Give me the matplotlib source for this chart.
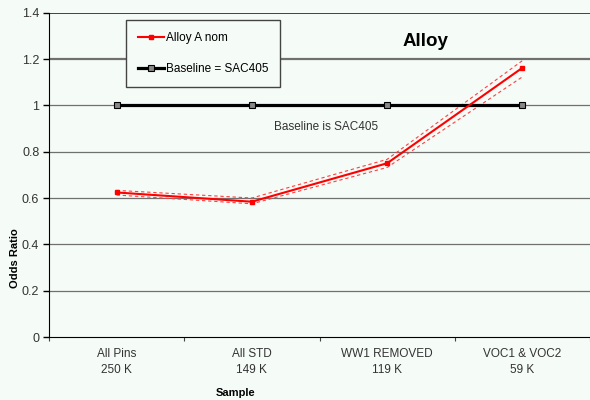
import numpy as np
import matplotlib.pyplot as plt

plt.rcParams['font.family'] = ['Liberation Sans', 'DejaVu Sans']

# data
categories = ['All Pins\n250 K', 'All STD\n149 K', 'WW1 REMOVED\n119 K', 'VOC1 & VOC2\n59 K']
alloy_nom = [0.624, 0.584, 0.750, 1.162]
alloy_upper = [0.633, 0.600, 0.767, 1.193]
alloy_lower = [0.613, 0.575, 0.732, 1.123]
baseline = [1.0, 1.0, 1.0, 1.0]
y_ticks = [0, 0.2, 0.4, 0.6, 0.8, 1.0, 1.2, 1.4]
y_tick_labels = ['0', '0.2', '0.4', '0.6', '0.8', '1', '1.2', '1.4']

bg = '#f5fbf7'
text_col = '#333333'

fig = plt.figure(figsize=(5.9, 4.0), dpi=100, facecolor=bg)
ax = fig.add_axes([49 / 590, 63 / 400, 541 / 590, 324.3 / 400])
ax.set_facecolor(bg)

x = np.arange(len(categories))

# grid lines
for yv in y_ticks[1:-1]:
    lw = 1.6 if yv == 1.2 else 0.9
    ax.axhline(yv, color='#707070', lw=lw, zorder=1)
ax.axhline(1.4, color='#222222', lw=1.2, zorder=1)

# confidence band (dashed)
ax.plot(x, alloy_upper, color='#ff4040', lw=0.8, ls=(0, (3, 2.5)), zorder=3)
ax.plot(x, alloy_lower, color='#ff4040', lw=0.8, ls=(0, (3, 2.5)), zorder=3)

# baseline
ax.plot(x, baseline, color='black', lw=2.3, marker='s', ms=4.5,
        mfc='#888888', mec='black', mew=0.8, zorder=4, label='Baseline = SAC405')
# alloy nominal
ax.plot(x, alloy_nom, color='red', lw=1.5, marker='s', ms=3, mfc='red', mec='red',
        zorder=5, label='Alloy A nom')

ax.set_xlim(-0.5, 3.5)
ax.set_ylim(0, 1.4)

# category axis: ticks between categories, labels at centers
ax.set_xticks(np.arange(-0.5, 4.0, 1.0))
ax.set_xticklabels([])
ax.set_xticks(x, minor=True)
ax.set_xticklabels(categories, minor=True, fontsize=8.5, color=text_col,
                   linespacing=1.4)
ax.tick_params(axis='x', which='major', direction='out', length=3, width=0.8,
               color='#444444')
ax.tick_params(axis='x', which='minor', length=0, pad=8)

ax.set_yticks(y_ticks)
ax.set_yticklabels(y_tick_labels, fontsize=9, color=text_col)
ax.tick_params(axis='y', direction='out', length=4, width=1, pad=3)

for side in ['top', 'right']:
    ax.spines[side].set_visible(False)
ax.spines['left'].set_color('black')
ax.spines['bottom'].set_color('black')

fig.text(236 / 590, 1 - 393 / 400, 'Sample', ha='center', va='center',
         fontsize=8, fontweight='bold')
fig.text(15 / 590, 1 - 258 / 400, 'Odds Ratio', ha='center', va='center',
         rotation=90, fontsize=8, fontweight='bold')

fig.text(425 / 590, 1 - 41 / 400, 'Alloy', ha='center', va='center',
         fontsize=13.5, fontweight='bold')
ax.text(1.55, 0.908, 'Baseline is SAC405', ha='center', va='center',
        fontsize=8.5, color=text_col)

handles, labels = ax.get_legend_handles_labels()
leg = ax.legend(handles[::-1], labels[::-1], loc='upper left',
                bbox_to_anchor=(126 / 590, 1 - 20 / 400),
                bbox_transform=fig.transFigure, fontsize=8.5,
                frameon=True, fancybox=False, handlelength=2.2,
                handletextpad=0.2, labelspacing=1.6, borderpad=1.0,
                borderaxespad=0)
leg.get_frame().set_edgecolor('#444444')
leg.get_frame().set_facecolor(bg)
leg.get_frame().set_alpha(1)
# widen the frame a little on the right, like the reference box
fig.canvas.draw()
bb = leg.get_frame().get_bbox()
leg.get_frame().set_width(bb.width + 8)

fig.savefig('out.png', dpi=100, facecolor=bg)
